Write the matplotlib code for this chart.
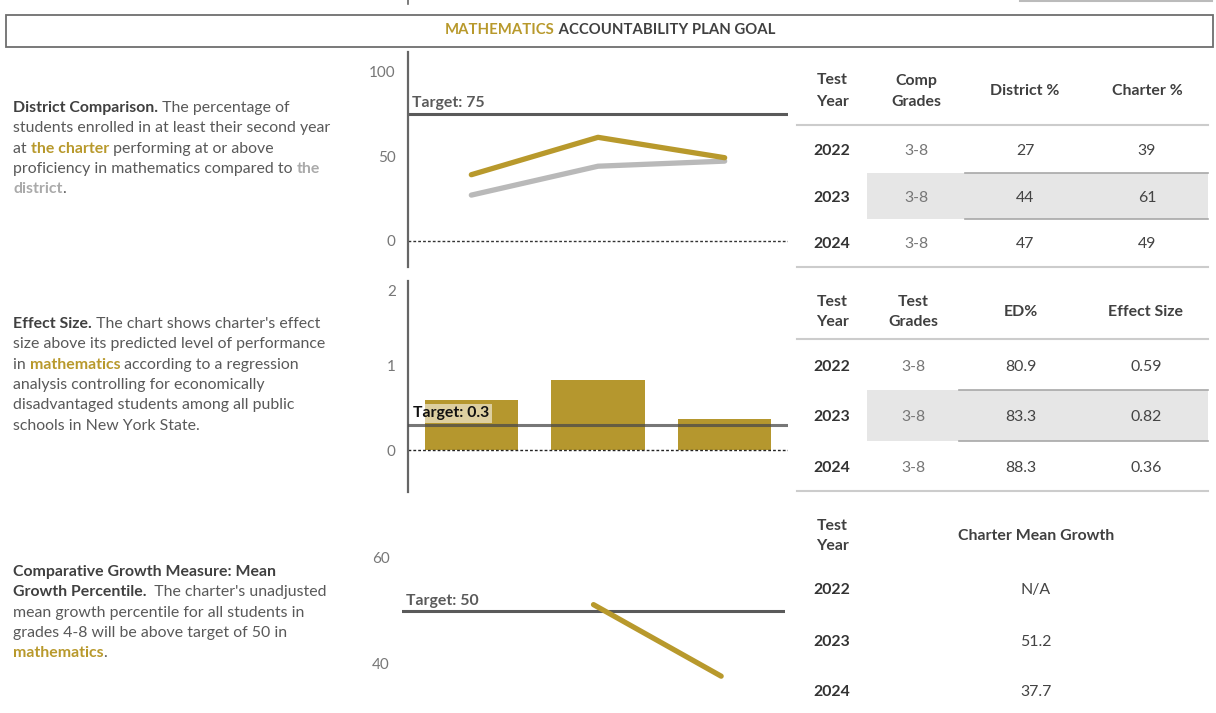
import numpy as np
import matplotlib
matplotlib.use('Agg')
import matplotlib.pyplot as plt
import matplotlib.transforms as mtransforms
from matplotlib.patches import Rectangle

plt.rcParams['font.family'] = ['Lato', 'DejaVu Sans']
plt.rcParams['font.size'] = 11.4

# data
years = ['2022', '2023', '2024']
district_pct = [27, 44, 47]
charter_pct = [39, 61, 49]
comp_grades = ['3-8', '3-8', '3-8']
test_grades = ['3-8', '3-8', '3-8']
ed_pct = [80.9, 83.3, 88.3]
effect_size = [0.59, 0.82, 0.36]
mean_growth = [np.nan, 51.2, 37.7]
target_prof = 75
target_effect = 0.3
target_growth = 50

GOLD = '#b8992c'
BAR_GOLD = '#b5972e'
DIST_GRAY = '#b9b9b9'
TXT = '#595959'
DARK = '#404040'
TICK = '#777777'
TGT = '#5a5a5a'
FS = 11.4
DY = 2  # small vertical nudge for text placed in pixel coords

W, H = 1216, 713
fig = plt.figure(figsize=(W / 100, H / 100), dpi=100)

# overlay in pixel coords for the text and tables
bg = fig.add_axes([0, 0, 1, 1])
bg.set_xlim(0, W)
bg.set_ylim(H, 0)
bg.axis('off')


def add_ax(x0, y0, x1, y1):
    ax = fig.add_axes([x0 / W, 1 - y1 / H, (x1 - x0) / W, (y1 - y0) / H])
    ax.patch.set_alpha(0)
    for s in ['top', 'right', 'bottom', 'left']:
        ax.spines[s].set_visible(False)
    ax.set_xticks([])
    ax.tick_params(axis='y', length=0, pad=9, labelcolor=TICK, labelsize=11)
    return ax


renderer = fig.canvas.get_renderer()


def rich_line(x, y, segs, ha='left', size=FS):
    texts = []
    cur = x
    for s, color, weight in segs:
        t = bg.text(cur, y + DY, s, color=color, fontweight=weight, fontsize=size,
                    va='center', ha='left')
        w = t.get_window_extent(renderer).width
        texts.append(t)
        cur += w
    if ha == 'center':
        shift = (cur - x) / 2
        for t in texts:
            px, py = t.get_position()
            t.set_position((px - shift, py))


# header
bg.add_patch(Rectangle((6, 15), 1207, 32, fill=False, ec='#6e6e6e', lw=1.3))
rich_line(610, 28, [('MATHEMATICS', GOLD, 'bold'),
                    (' ACCOUNTABILITY PLAN GOAL', DARK, 'bold')], ha='center', size=10.7)
bg.plot([408, 408], [0, 4], color='#666666', lw=1.2)
bg.plot([1020, 1212], [0.5, 0.5], color='#bbbbbb', lw=1.5)

# left descriptions
n = 'normal'
b = 'bold'
block1 = [
    [('District Comparison.', DARK, b), (' The percentage of', TXT, n)],
    [('students enrolled in at least their second year', TXT, n)],
    [('at ', TXT, n), ('the charter', GOLD, b), (' performing at or above', TXT, n)],
    [('proficiency in mathematics compared to ', TXT, n), ('the', '#aaaaaa', b)],
    [('district', '#aaaaaa', b), ('.', TXT, n)],
]
block2 = [
    [('Effect Size.', DARK, b), (" The chart shows charter's effect", TXT, n)],
    [('size above its predicted level of performance', TXT, n)],
    [('in ', TXT, n), ('mathematics', GOLD, b), (' according to a regression', TXT, n)],
    [('analysis controlling for economically', TXT, n)],
    [('disadvantaged students among all public', TXT, n)],
    [('schools in New York State.', TXT, n)],
]
block3 = [
    [('Comparative Growth Measure: Mean', DARK, b)],
    [('Growth Percentile.', DARK, b), ("  The charter's unadjusted", TXT, n)],
    [('mean growth percentile for all students in', TXT, n)],
    [('grades 4-8 will be above target of 50 in', TXT, n)],
    [('mathematics', GOLD, b), ('.', TXT, n)],
]
for block, y0 in [(block1, 106), (block2, 322), (block3, 570)]:
    for i, line in enumerate(block):
        rich_line(13, y0 + i * 20.3, line)

# chart 1: district comparison
x = np.arange(len(years))
ax1 = add_ax(408, 52, 788, 267)
ax1.set_xlim(-0.5, 2.5)
ax1.set_ylim(-15.3, 111.2)
ax1.set_yticks([0, 50, 100])
ax1.spines['left'].set_visible(True)
ax1.spines['left'].set_color('#666666')
ax1.spines['left'].set_linewidth(1.6)
ax1.axhline(0, color='#333333', lw=1, ls=(0, (2, 1.5)))
ax1.axhline(target_prof, color=TGT, lw=2.2)
ax1.plot(x, district_pct, color=DIST_GRAY, lw=3.8, solid_capstyle='round')
ax1.plot(x, charter_pct, color=GOLD, lw=3.8, solid_capstyle='round')
tr1 = mtransforms.blended_transform_factory(ax1.transAxes, ax1.transData)
ax1.annotate('Target: %d' % target_prof, xy=(0.01, target_prof), xycoords=tr1,
             xytext=(0, 2.5), textcoords='offset points', va='bottom',
             fontweight='bold', color=TGT, fontsize=FS)

# chart 2: effect size
ax2 = add_ax(408, 281, 788, 492)
ax2.set_xlim(-0.5, 2.5)
ax2.set_ylim(-0.494, 1.99)
ax2.set_yticks([0, 1])
ax2.text(-0.5 - 9 / 126.7 - 0.02, 1.86, '2', ha='right', va='center',
         color=TICK, fontsize=11)
ax2.spines['left'].set_visible(True)
ax2.spines['left'].set_color('#666666')
ax2.spines['left'].set_linewidth(1.6)
ax2.bar(x, effect_size, width=0.735, color=BAR_GOLD, zorder=1)
ax2.axhline(0, color='#222222', lw=1, ls=(0, (2, 1.5)), zorder=2)
ax2.axhline(target_effect, color='#4a4a4a', lw=2.2, alpha=0.75, zorder=3)
tr2 = mtransforms.blended_transform_factory(ax2.transAxes, ax2.transData)
ax2.annotate('Target: %g' % target_effect, xy=(0.013, target_effect), xycoords=tr2,
             xytext=(0, 3), textcoords='offset points', va='bottom',
             fontweight='bold', color='#111111', fontsize=FS, zorder=4,
             bbox=dict(boxstyle='square,pad=0.15', fc='white', ec='none', alpha=0.55))

# chart 3: mean growth percentile
ax3 = add_ax(402, 505, 785, 713)
ax3.set_xlim(-0.5, 2.5)
ax3.set_ylim(30.75, 70)
ax3.set_yticks([40, 60])
ax3.axhline(target_growth, color=TGT, lw=2.2)
ax3.plot(x, mean_growth, color=GOLD, lw=3.8, solid_capstyle='round')
tr3 = mtransforms.blended_transform_factory(ax3.transAxes, ax3.transData)
ax3.annotate('Target: %d' % target_growth, xy=(0.01, target_growth), xycoords=tr3,
             xytext=(0, 2.5), textcoords='offset points', va='bottom',
             fontweight='bold', color=TGT, fontsize=FS)


# tables
def header(xc, y, lines):
    y = y + DY
    if len(lines) == 1:
        bg.text(xc, y, lines[0], ha='center', va='center', fontweight='bold',
                color=DARK, fontsize=FS)
    else:
        bg.text(xc, y - 10.5, lines[0], ha='center', va='center', fontweight='bold',
                color=DARK, fontsize=FS)
        bg.text(xc, y + 10.5, lines[1], ha='center', va='center', fontweight='bold',
                color=DARK, fontsize=FS)


def table(top_y, cols, heads, rows_y, cells, band, lines_y):
    for xc, hd in zip(cols, heads):
        header(xc, top_y, hd)
    if band is not None:
        by0, by1, lx = band
        bg.add_patch(Rectangle((867, by0), 1208 - 867, by1 - by0, color='#e6e6e6', lw=0))
        bg.plot([lx, 1208], [by0, by0], color='#a8a8a8', lw=1.2)
        bg.plot([lx, 1208], [by1, by1], color='#a8a8a8', lw=1.2)
    for ly in lines_y:
        bg.plot([797, 1208], [ly, ly], color='#cccccc', lw=1.5)
    for ry, row in zip(rows_y, cells):
        ry = ry + DY
        for j, (xc, val) in enumerate(zip(cols, row)):
            if j == 0:
                bg.text(xc, ry, val, ha='center', va='center', fontweight='bold',
                        color='#333333', fontsize=FS)
            elif j == 1 and len(cols) > 2:
                bg.text(xc, ry, val, ha='center', va='center', color='#777777', fontsize=FS)
            else:
                bg.text(xc, ry, val, ha='center', va='center', color='#444444', fontsize=FS)


cells1 = [[y, g, str(d), str(c)] for y, g, d, c in zip(years, comp_grades, district_pct, charter_pct)]
table(89, [832, 916, 1025, 1147],
      [['Test', 'Year'], ['Comp', 'Grades'], ['District %'], ['Charter %']],
      [149, 196, 242], cells1, (173, 219, 965), [125, 267])

cells2 = [[y, g, '%.1f' % e, '%.2f' % s] for y, g, e, s in zip(years, test_grades, ed_pct, effect_size)]
table(310, [832, 913, 1021, 1146],
      [['Test', 'Year'], ['Test', 'Grades'], ['ED%'], ['Effect Size']],
      [365, 415, 466], cells2, (390, 441, 959), [339, 491])

cells3 = [[y, 'N/A' if np.isnan(m) else '%.1f' % m] for y, m in zip(years, mean_growth)]
table(534, [832, 1036],
      [['Test', 'Year'], ['Charter Mean Growth']],
      [588, 640, 690], cells3, None, [])

fig.savefig('out.png', dpi=100)
